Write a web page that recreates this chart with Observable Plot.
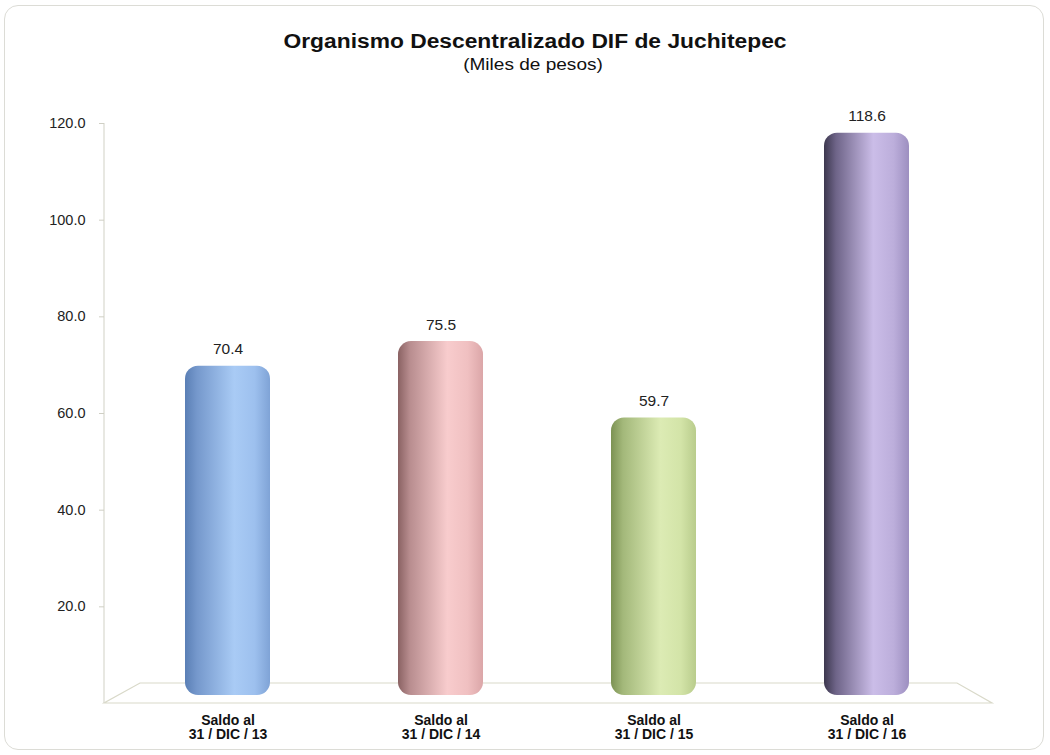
<!DOCTYPE html>
<html>
<head>
<meta charset="utf-8">
<script src="https://cdn.jsdelivr.net/npm/d3@7"></script>
<script src="https://cdn.jsdelivr.net/npm/@observablehq/plot@0.6"></script>
<style>
  html, body { margin: 0; padding: 0; background: #fff; }
  body { width: 1050px; height: 755px; position: relative; overflow: hidden; font-family: Arial, "Liberation Sans", sans-serif; }
  #frame { position: absolute; left: 4px; top: 5px; width: 1040px; height: 745px; border: 1px solid #dcdcd6; border-radius: 14px; box-sizing: border-box; }
  #title { position: absolute; left: 0; width: 1070px; top: 30px; text-align: center; font-weight: bold; font-size: 20px; color: #111; transform: scaleX(1.14); transform-origin: 535px 0; }
  #subtitle { position: absolute; left: 0; width: 1066px; top: 55px; text-align: center; font-size: 17px; color: #111; transform: scaleX(1.12); transform-origin: 533px 0; }
  #chart { position: absolute; left: 0; top: 100px; }
</style>
</head>
<body>
<div id="frame"></div>
<div id="title">Organismo Descentralizado DIF de Juchitepec</div>
<div id="subtitle">(Miles de pesos)</div>
<div id="chart"></div>
<script>
// ---- data ----
const categories = ["Saldo al\n31 / DIC / 13", "Saldo al\n31 / DIC / 14", "Saldo al\n31 / DIC / 15", "Saldo al\n31 / DIC / 16"];
const values = [70.4, 75.5, 59.7, 118.6];
const yTicks = [20, 40, 60, 80, 100, 120];
const gradIds = ["gBlue", "gPink", "gGreen", "gPurple"];
const gradStops = [
  ["#5a7fb5", "#7598cc", "#a9cbf5", "#9dc0ee", "#7fa3d6"],
  ["#8a6263", "#b88d8f", "#f8cccd", "#f0c0c1", "#dba6a8"],
  ["#7c9253", "#a3b87a", "#dcebb4", "#d3e4a8", "#b9cc8c"],
  ["#3c374e", "#6e6488", "#cbbde8", "#bcaedb", "#9d8fc0"]
];
const stopOffsets = ["0%", "14%", "58%", "82%", "100%"];

const rows = categories.map((c, i) => ({cat: c, value: values[i]}));

// decoration: gradient defs, floor and left axis line
function decor(index, scales, values, dims) {
  const g = d3.create("svg:g");
  const defs = g.append("defs");
  gradIds.forEach((id, i) => {
    const lg = defs.append("linearGradient").attr("id", id).attr("x1", "0%").attr("x2", "100%").attr("y1", "0%").attr("y2", "0%");
    gradStops[i].forEach((c, j) => lg.append("stop").attr("offset", stopOffsets[j]).attr("stop-color", c));
  });
  const left = dims.marginLeft;
  const right = dims.width - dims.marginRight;
  const y0 = scales.y(0);
  const yTop = scales.y(120);
  const depth = 20;
  g.append("path")
    .attr("d", `M${left},${y0} L${right},${y0} L${right - 35},${y0 - depth} L${left + 36},${y0 - depth} Z`)
    .attr("fill", "none").attr("stroke", "#d9d9c9").attr("stroke-width", 1.2);
  g.append("line").attr("x1", left).attr("x2", left).attr("y1", yTop).attr("y2", y0)
    .attr("stroke", "#d9d9cf").attr("stroke-width", 1.2);
  return g.node();
}

const chart = Plot.plot({
  width: 1050,
  height: 655,
  marginLeft: 104,
  marginRight: 58,
  marginTop: 23,
  marginBottom: 52,
  x: {domain: categories, range: [120, 974], paddingInner: 0.6, paddingOuter: 0.3, label: null},
  y: {domain: [0, 120], label: null},
  color: {type: "ordinal", domain: categories, range: gradIds.map(id => `url(#${id})`)},
  style: {fontFamily: "Arial, 'Liberation Sans', sans-serif", background: "transparent"},
  marks: [
    decor,
    Plot.axisY({ticks: yTicks, tickFormat: d => d.toFixed(1), tickSize: 5, tickPadding: 14, stroke: "#cfcfc4", fill: "#222", fontSize: 14.5, label: null}),
    Plot.axisX({tickSize: 0, tickPadding: 12, fontSize: 14, fontWeight: "bold", fill: "#111", lineHeight: 1.0, label: null}),
    Plot.barY(rows, {x: "cat", y: "value", fill: "cat", rx: 13, insetBottom: 8, insetTop: 3}),
    Plot.text(rows, {x: "cat", y: "value", text: d => d.value.toFixed(1), dy: -14, fontSize: 15.5, fill: "#222"})
  ]
});
document.getElementById("chart").appendChild(chart);
</script>
</body>
</html>
